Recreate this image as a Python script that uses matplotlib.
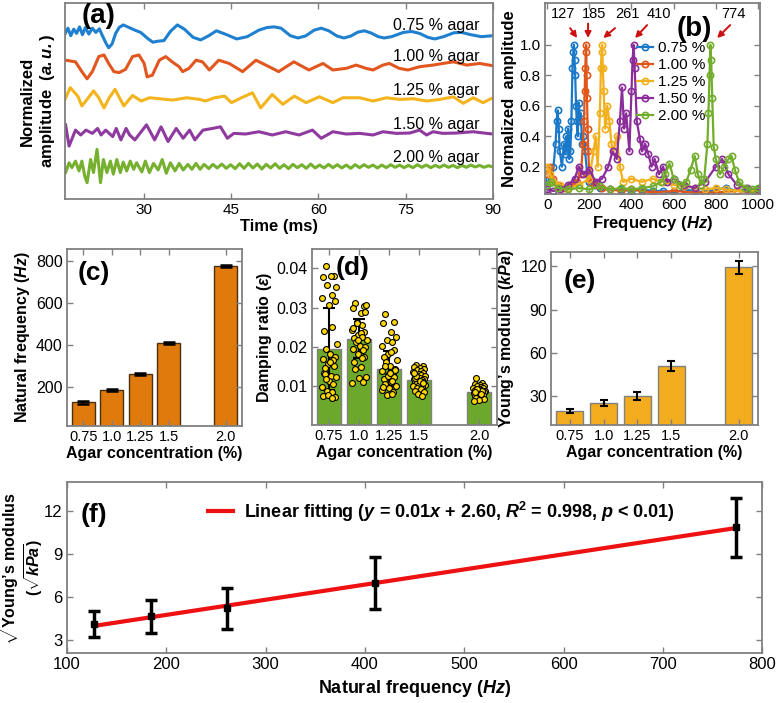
import matplotlib.pyplot as plt
import numpy as np

plt.rcParams['font.family'] = ['Liberation Sans', 'DejaVu Sans']
plt.rcParams['mathtext.fontset'] = 'custom'
plt.rcParams['mathtext.rm'] = 'Liberation Sans'
plt.rcParams['mathtext.bf'] = 'Liberation Sans:bold'
plt.rcParams['mathtext.it'] = 'Liberation Sans:italic'
plt.rcParams['mathtext.bfit'] = 'Liberation Sans:italic:bold'

# ---- (a) time traces: (time ms, value around the trace baseline)
AGAR_LABELS = ['0.75 % agar', '1.00 % agar', '1.25 % agar', '1.50 % agar', '2.00 % agar']

BLUE_T = [16.5, 17.0, 17.5, 18.0, 18.5, 19.0, 19.5, 20.0, 20.6, 21.2, 21.8, 22.4, 23.0, 23.6,
          24.0, 24.6, 25.2, 25.8, 26.5, 27.5, 28.5, 29.5, 30.8, 31.6, 32.4, 33.5, 34.6, 35.8,
          37.0, 38.5, 39.8, 41.2, 42.5, 44.0, 46.0, 47.8, 49.8, 51.2, 52.4, 53.6, 55.2, 56.5,
          57.8, 59.3, 60.5, 61.8, 63.2, 64.4, 65.6, 66.8, 67.9, 69.1, 70.3, 71.3, 72.6, 74.6,
          76.0, 77.4, 78.8, 80.0, 81.5, 83.3, 84.6, 86.2, 88.0, 90.0]
BLUE_V = [0.0, 0.18, -0.05, 0.15, 0.02, 0.22, -0.02, 0.2, 0.0, 0.18, 0.05, 0.16, -0.08, -0.3,
          -0.42, -0.3, 0.02, 0.2, 0.28, 0.2, 0.12, 0.05, -0.15, -0.25, -0.22, -0.2, 0.08, 0.28,
          0.15, -0.1, -0.18, -0.05, 0.1, 0.0, -0.15, -0.08, 0.12, 0.2, 0.22, 0.18, -0.05, -0.12,
          -0.06, 0.12, 0.18, 0.1, -0.06, -0.12, -0.06, 0.06, 0.1, 0.03, -0.08, -0.12, -0.08, 0.05,
          0.08, 0.02, -0.1, -0.15, -0.08, 0.04, 0.05, -0.02, -0.08, -0.05]

RED_T = [16.6, 18.3, 19.4, 20.3, 21.2, 22.3, 23.2, 24.0, 24.9, 25.8, 26.9, 28.1, 29.2, 30.1,
         30.6, 31.5, 32.7, 33.8, 34.9, 36.1, 36.7, 37.8, 39.0, 40.1, 41.3, 42.9, 44.7, 47.0,
         49.3, 52.1, 53.2, 55.8, 58.4, 60.8, 62.5, 64.8, 66.5, 68.2, 69.4, 71.1, 72.2, 73.9,
         75.4, 77.4, 79.7, 81.4, 83.2, 85.5, 87.7, 90.0]
RED_V = [0.15, 0.10, -0.2, -0.42, -0.2, 0.26, 0.31, 0.05, -0.2, -0.23, -0.13, 0.26, 0.31, 0.05,
         -0.36, -0.31, 0.15, 0.26, 0.10, -0.05, -0.2, -0.1, 0.15, 0.1, -0.15, 0.15, 0.05, -0.2,
         0.15, -0.1, -0.2, 0.1, -0.15, 0.05, -0.15, -0.1, 0.0, -0.1, -0.15, 0.0, 0.05, -0.1,
         -0.15, -0.05, 0.0, 0.05, 0.1, 0.0, 0.05, -0.02]

YEL_T = [16.5, 17.4, 18.7, 19.4, 20.3, 21.4, 22.3, 23.2, 24.1, 25.1, 26.0, 26.6, 28.1, 29.6,
         31.0, 32.7, 35.0, 37.4, 39.6, 40.6, 42.2, 43.9, 45.1, 46.8, 48.7, 50.1, 52.1, 53.9,
         55.9, 57.9, 60.2, 62.5, 64.2, 67.1, 69.4, 71.7, 74.0, 76.3, 78.6, 80.9, 83.2, 84.9,
         86.6, 88.3, 90.0]
YEL_V = [0.0, 0.36, 0.1, -0.2, 0.0, 0.26, 0.05, -0.26, 0.05, 0.31, 0.0, -0.2, 0.12, -0.05,
         0.05, 0.02, -0.02, 0.05, 0.0, -0.05, 0.05, 0.1, -0.1, 0.05, 0.2, -0.26, 0.15, -0.15,
         0.1, -0.1, 0.08, -0.1, 0.05, 0.05, -0.05, 0.05, 0.0, 0.02, -0.05, 0.0, 0.08, -0.12,
         0.05, -0.1, 0.05]

PUR_T = [16.6, 17.2, 18.3, 19.2, 20.1, 21.2, 22.1, 22.7, 23.5, 24.7, 25.3, 26.1, 27.0, 27.6,
         28.5, 30.5, 31.9, 33.0, 34.2, 35.6, 36.8, 37.9, 38.8, 40.2, 41.8, 43.2, 44.4, 45.5,
         47.5, 49.8, 52.1, 54.4, 56.7, 59.0, 60.5, 62.5, 64.8, 67.1, 69.4, 71.1, 73.4, 75.7,
         77.4, 78.6, 79.7, 81.4, 83.7, 86.6, 88.9, 90.0]
PUR_V = [0.25, -0.4, 0.09, -0.06, 0.09, -0.01, 0.14, -0.06, 0.09, -0.11, 0.14, -0.21, 0.14,
         -0.06, -0.21, 0.25, -0.21, 0.19, -0.26, 0.14, -0.16, 0.09, -0.21, 0.09, 0.14, 0.19,
         -0.16, -0.01, -0.03, 0.04, -0.06, 0.04, -0.06, 0.09, -0.16, 0.04, -0.03, -0.01, -0.06,
         0.04, -0.01, 0.0, 0.09, -0.06, 0.04, -0.01, 0.0, 0.04, -0.01, -0.03]

GRN_T = [16.6, 17.2, 17.7, 18.3, 18.9, 19.4, 19.9, 20.3, 20.9, 21.4, 22.0, 22.6, 23.1, 23.7,
         24.3, 24.8, 25.4, 26.0, 26.5, 27.1, 27.7, 28.3, 28.8, 29.7, 30.3, 31.0, 31.7, 32.5,
         33.2, 33.9, 34.6, 35.4, 36.1, 36.8, 37.6, 38.3, 39.0, 39.7, 40.4, 41.2]
GRN_V = [-0.19, 0.11, -0.04, 0.16, -0.14, 0.16, -0.3, -0.5, 0.21, -0.19, 0.52, -0.5, 0.21,
         -0.19, 0.16, -0.24, 0.21, -0.19, 0.13, -0.14, 0.16, -0.09, 0.11, -0.17, 0.16, -0.19,
         0.09, -0.11, 0.21, -0.21, 0.11, -0.14, 0.09, -0.11, 0.06, -0.09, 0.09, -0.09, 0.06, -0.07]
# small fast ripple after ~42 ms, sampled every ~0.75 ms
GRN_TAIL = [0.06, -0.05, 0.07, -0.06, 0.05, -0.07, 0.08, -0.06, 0.09, -0.05, 0.07, -0.08, 0.06,
            -0.05, 0.08, -0.06, 0.05, -0.07, 0.06, -0.04, 0.05, -0.06, 0.07, -0.05, 0.04, -0.05,
            0.06, -0.04, 0.05, -0.05, 0.04, -0.06, 0.05, -0.04, 0.05, -0.03, 0.04, -0.05, 0.04,
            -0.04, 0.05, -0.03, 0.04, -0.04, 0.03, -0.04, 0.05, -0.03, 0.04, -0.04, 0.03, -0.03,
            0.04, -0.03, 0.03, -0.04, 0.03, -0.03, 0.04, -0.02, 0.03, -0.03, 0.02, -0.02]

# ---- (b) spectra
SPEC_LABELS = ['0.75 %', '1.00 %', '1.25 %', '1.50 %', '2.00 %']
F_075 = [0, 10, 20, 30, 40, 45, 50, 55, 60, 70, 80, 85, 90, 95, 100, 105, 110, 115, 120, 124,
         127, 130, 133, 137, 140, 145, 150, 155, 160, 165, 170, 180, 190, 200, 220, 250, 300,
         350, 400, 450, 500, 550, 600, 650, 700, 750, 800, 850, 900, 950, 1000]
A_075 = [0.08, 0.12, 0.1, 0.2, 0.35, 0.5, 0.57, 0.45, 0.3, 0.2, 0.35, 0.28, 0.4, 0.3, 0.45, 0.25,
         0.3, 0.5, 0.85, 0.95, 1.0, 0.9, 0.8, 0.6, 0.5, 0.4, 0.62, 0.5, 0.55, 0.35, 0.4, 0.3,
         0.15, 0.1, 0.08, 0.06, 0.05, 0.05, 0.04, 0.05, 0.04, 0.04, 0.03, 0.05, 0.04, 0.03,
         0.05, 0.06, 0.04, 0.05, 0.04]
F_100 = [0, 15, 30, 50, 80, 110, 140, 160, 170, 175, 178, 181, 183, 185, 187, 189, 192, 195,
         200, 210, 230, 260, 300, 350, 400, 450, 500, 600, 700, 800, 900, 1000]
A_100 = [0.15, 0.2, 0.12, 0.08, 0.06, 0.08, 0.1, 0.15, 0.35, 0.5, 0.7, 0.85, 0.95, 1.0, 0.8,
         0.65, 0.45, 0.3, 0.15, 0.1, 0.08, 0.06, 0.05, 0.04, 0.05, 0.04, 0.03, 0.04, 0.03, 0.03,
         0.04, 0.03]
F_125 = [0, 15, 30, 60, 100, 150, 200, 220, 230, 240, 250, 255, 258, 261, 264, 268, 275, 285,
         295, 305, 315, 330, 345, 360, 400, 450, 500, 550, 600, 650, 700, 750, 800, 850, 900, 1000]
A_125 = [0.2, 0.15, 0.1, 0.08, 0.06, 0.08, 0.12, 0.3, 0.4, 0.2, 0.55, 0.85, 0.95, 1.0, 0.85,
         0.7, 0.45, 0.6, 0.5, 0.35, 0.3, 0.4, 0.2, 0.1, 0.12, 0.1, 0.12, 0.1, 0.08, 0.07, 0.06,
         0.05, 0.06, 0.05, 0.04, 0.04]
F_150 = [0, 30, 60, 100, 130, 150, 170, 200, 230, 260, 290, 310, 330, 345, 355, 365, 375, 390,
         400, 405, 410, 415, 425, 440, 450, 465, 480, 495, 510, 530, 550, 570, 600, 650, 700,
         750, 800, 830, 860, 900, 950, 1000]
A_150 = [0.05, 0.04, 0.05, 0.08, 0.12, 0.2, 0.15, 0.18, 0.1, 0.12, 0.2, 0.3, 0.25, 0.5, 0.72,
         0.45, 0.55, 0.3, 0.7, 0.9, 1.0, 0.85, 0.5, 0.38, 0.3, 0.35, 0.28, 0.2, 0.25, 0.15, 0.2,
         0.1, 0.12, 0.08, 0.06, 0.1, 0.2, 0.25, 0.15, 0.08, 0.06, 0.05]
F_200 = [0, 20, 50, 100, 150, 200, 250, 300, 350, 400, 450, 500, 540, 560, 580, 600, 630, 660,
         680, 700, 715, 730, 745, 760, 765, 770, 774, 778, 783, 790, 800, 820, 840, 860, 875,
         890, 910, 940, 970, 1000]
A_200 = [0.08, 0.1, 0.06, 0.05, 0.06, 0.05, 0.07, 0.05, 0.06, 0.05, 0.06, 0.07, 0.1, 0.15,
         0.22, 0.12, 0.08, 0.1, 0.18, 0.27, 0.15, 0.08, 0.12, 0.35, 0.55, 0.8, 1.0, 0.9, 0.65,
         0.33, 0.25, 0.15, 0.2, 0.25, 0.27, 0.18, 0.1, 0.06, 0.05, 0.06]
PEAK_FREQ = [127, 185, 261, 410, 774]

# ---- (c)-(e) bars
CONC_LABELS = ['0.75', '1.0', '1.25', '1.5', '2.0']
NAT_FREQ = [127, 185, 261, 410, 774]
NAT_FREQ_ERR = [6, 6, 5, 5, 5]
DAMP_MEAN = [0.0195, 0.0221, 0.0143, 0.0115, 0.0085]
DAMP_SD = [0.0105, 0.0049, 0.0046, 0.0014, 0.0010]
DAMP_075 = [0.0406, 0.0382, 0.0378, 0.0380, 0.0353, 0.0359, 0.0333, 0.0324, 0.0316, 0.0307,
            0.0251, 0.0240, 0.0208, 0.0195, 0.0182, 0.0173, 0.0169, 0.0165, 0.0156, 0.0152,
            0.0134, 0.0126, 0.0130, 0.0122, 0.0113, 0.0096, 0.0104, 0.0087, 0.0083, 0.0074,
            0.0072, 0.0077, 0.0070, 0.0145, 0.0160, 0.0118]
DAMP_100 = [0.0311, 0.0303, 0.0298, 0.0285, 0.0307, 0.0264, 0.0255, 0.0242, 0.0238, 0.0229,
            0.0234, 0.0223, 0.0216, 0.0212, 0.0203, 0.0199, 0.0195, 0.0191, 0.0182, 0.0173,
            0.0160, 0.0147, 0.0143, 0.0122, 0.0120, 0.0106, 0.0109, 0.0260, 0.0225, 0.0248,
            0.0290, 0.0218, 0.0170]
DAMP_125 = [0.0284, 0.0264, 0.0261, 0.0238, 0.0225, 0.0216, 0.0212, 0.0203, 0.0191, 0.0182,
            0.0186, 0.0173, 0.0165, 0.0160, 0.0152, 0.0143, 0.0139, 0.0134, 0.0128, 0.0122,
            0.0117, 0.0109, 0.0104, 0.0100, 0.0094, 0.0089, 0.0083, 0.0077, 0.0080, 0.0096,
            0.0140, 0.0125, 0.0112, 0.0150, 0.0132]
DAMP_150 = [0.0153, 0.0150, 0.0147, 0.0145, 0.0142, 0.0141, 0.0137, 0.0135, 0.0134, 0.0130,
            0.0128, 0.0127, 0.0124, 0.0122, 0.0121, 0.0118, 0.0117, 0.0114, 0.0112, 0.0111,
            0.0109, 0.0107, 0.0105, 0.0103, 0.0101, 0.0099, 0.0098, 0.0095, 0.0091, 0.0087,
            0.0083, 0.0078, 0.0074, 0.0119, 0.0113, 0.0126, 0.0108, 0.0132]
DAMP_200 = [0.0120, 0.0108, 0.0104, 0.0102, 0.0100, 0.0099, 0.0097, 0.0095, 0.0094, 0.0092,
            0.0090, 0.0089, 0.0087, 0.0086, 0.0084, 0.0083, 0.0081, 0.0080, 0.0078, 0.0076,
            0.0074, 0.0072, 0.0070, 0.0067, 0.0064, 0.0060, 0.0088, 0.0093, 0.0079, 0.0085]
YOUNG = [19.5, 25.0, 30.0, 51.0, 119.5]
YOUNG_ERR = [1.5, 2.0, 2.7, 3.5, 4.5]

# ---- (f) sqrt(Young's modulus) vs natural frequency
SQRT_E = [4.1, 4.65, 5.2, 6.95, 10.85]
SQRT_E_ERR = [0.9, 1.15, 1.45, 1.8, 2.05]

TRACE_COLORS = ['#1f80d0', '#e2571f', '#f4b41e', '#8e3a9e', '#75b02f']
SPEC_COLORS = ['#1a78c8', '#e0561a', '#f2b01c', '#8a2d9a', '#72ad2c']
BAR_POS = [1, 2, 3, 4, 6]
JITTER = [-0.12, 0.15, -0.2, 0.05, 0.22, -0.08, 0.1, -0.25, 0.18, -0.02, 0.08, -0.16, 0.25,
          -0.1, 0.02, 0.2, -0.22, 0.12, -0.05, 0.17, -0.18, 0.06, -0.13, 0.24, 0.0, -0.24,
          0.14, -0.07, 0.09, -0.19, 0.21, -0.03, 0.11, -0.15, 0.03]


def style_axes(ax, labelsize=11):
    for s in ax.spines.values():
        s.set_color('#808080')
        s.set_linewidth(1.3)
    ax.tick_params(direction='in', top=True, right=True, length=4, width=1,
                   color='#808080', labelsize=labelsize, pad=3)


def panel_label(ax, x, y, text, size=19):
    ax.text(x, y, text, transform=ax.transAxes, fontsize=size, fontweight='bold',
            ha='left', va='top')


fig = plt.figure(figsize=(7.82, 7.03), dpi=100)

# (a) --------------------------------------------------------------
ax = fig.add_axes([0.0831, 0.7169, 0.5473, 0.2788])
baselines = [5.05, 4.1, 3.05, 2.02, 1.0]
green_tail_t = np.linspace(41.9, 90, len(GRN_TAIL))
traces = [(BLUE_T, BLUE_V), (RED_T, RED_V), (YEL_T, YEL_V), (PUR_T, PUR_V),
          (GRN_T + list(green_tail_t), GRN_V + GRN_TAIL)]
for (t, v), base, col, lab in zip(traces, baselines, TRACE_COLORS, AGAR_LABELS):
    ax.plot(t, np.array(v) + base, color=col, lw=2.2, solid_joinstyle='round')
    ax.text(72.9, base + 0.27, lab, fontsize=11.5, va='center', ha='left')
ax.set_xlim(16.5, 90)
ax.set_ylim(0, 6)
ax.set_xticks([30, 45, 60, 75, 90])
ax.set_yticks([])
style_axes(ax)
ax.set_xlabel('Time (ms)', fontsize=12, fontweight='bold', labelpad=1)
ax.set_ylabel('Normalized\namplitude  ($\\mathbfit{a.u.}$)', fontsize=12,
              fontweight='bold', labelpad=6)
panel_label(ax, 0.04, 1.0, '(a)', size=20)

# (b) --------------------------------------------------------------
ax = fig.add_axes([0.697, 0.724, 0.275, 0.2717])
spectra = [(F_075, A_075), (F_100, A_100), (F_125, A_125), (F_150, A_150), (F_200, A_200)]
for (f, a), col, lab in zip(spectra, SPEC_COLORS, SPEC_LABELS):
    ax.plot(f, a, '-o', color=col, lw=1.6, ms=4.5, mfc='none', mew=1.2, label=lab)
ax.set_xlim(-10, 1010)
ax.set_ylim(0.02, 1.275)
ax.set_xticks([0, 200, 400, 600, 800, 1000])
ax.set_yticks([0.2, 0.4, 0.6, 0.8, 1.0])
style_axes(ax)
ax.set_xlabel('Frequency ($\\mathbfit{Hz}$)', fontsize=12, fontweight='bold', labelpad=1)
ax.set_ylabel('Normalized  amplitude', fontsize=12, fontweight='bold', labelpad=2)
ax.legend(loc='upper left', bbox_to_anchor=(0.39, 0.84), frameon=False, fontsize=11,
          handlelength=1.1, handletextpad=0.3, labelspacing=0.2, borderpad=0)
text_x = [76, 224, 380, 528, 882]
tail_x = [109, 194, 322, 474, 868]
tail_y = [1.11, 1.14, 1.11, 1.13, 1.13]
tip_x = [142, 194, 266, 417, 806]
for p, tx, x0, y0, x1 in zip(PEAK_FREQ, text_x, tail_x, tail_y, tip_x):
    ax.text(tx, 1.2, str(p), fontsize=10.5, ha='center', va='center')
    ax.annotate('', xy=(x1, 1.045), xytext=(x0, y0),
                arrowprops=dict(arrowstyle='-|>', color='#cc1010', lw=1.4,
                                mutation_scale=9, shrinkA=0, shrinkB=0))
panel_label(ax, 0.61, 0.93, '(b)', size=20)

# (c) --------------------------------------------------------------
ax = fig.add_axes([0.0857, 0.394, 0.2238, 0.2518])
ax.bar(BAR_POS, NAT_FREQ, width=0.8, color='#e07a0c', edgecolor='#4a3010', lw=1)
ax.errorbar(BAR_POS, NAT_FREQ, yerr=NAT_FREQ_ERR, fmt='none', ecolor='k', elinewidth=1.5,
            capsize=4, capthick=1.8)
ax.set_xlim(0.43, 6.57)
ax.set_ylim(14, 857)
ax.set_yticks([200, 400, 600, 800])
ax.set_xticks(BAR_POS)
ax.set_xticklabels(CONC_LABELS)
style_axes(ax, labelsize=10.5)
ax.tick_params(axis='y', labelsize=11.5)
ax.set_xlabel('Agar concentration (%)', fontsize=11.5, fontweight='bold', labelpad=1)
ax.set_ylabel('Natural frequency ($\\mathbfit{Hz}$)', fontsize=11.5, fontweight='bold',
              labelpad=3)
panel_label(ax, 0.06, 0.93, '(c)')

# (d) --------------------------------------------------------------
ax = fig.add_axes([0.399, 0.3955, 0.2366, 0.2504])
ax.bar(BAR_POS, DAMP_MEAN, width=0.8, color='#6ba82c', edgecolor='#808080', lw=1)
ax.errorbar(BAR_POS, DAMP_MEAN, yerr=DAMP_SD, fmt='none', ecolor='k', elinewidth=1.5,
            capsize=4, capthick=1.5)
jitter_scale = [1.0, 1.0, 1.0, 0.8, 0.75]
for pos, vals, sc in zip(BAR_POS, [DAMP_075, DAMP_100, DAMP_125, DAMP_150, DAMP_200],
                         jitter_scale):
    xs = [pos + sc * JITTER[i % len(JITTER)] for i in range(len(vals))]
    ax.scatter(xs, vals, s=18, color='#ffd800', edgecolor='k', linewidth=0.8, zorder=3)
ax.set_xlim(0.43, 6.6)
ax.set_ylim(0, 0.045)
ax.set_yticks([0.01, 0.02, 0.03, 0.04])
ax.set_yticklabels(['0.01', '0.02', '0.03', '0.04'])
ax.set_xticks(BAR_POS)
ax.set_xticklabels(CONC_LABELS)
style_axes(ax, labelsize=10.5)
ax.tick_params(axis='y', labelsize=11.5)
ax.set_xlabel('Agar concentration (%)', fontsize=11.5, fontweight='bold', labelpad=1)
ax.set_ylabel('Damping ratio ($\\mathbfit{ε}$)', fontsize=11.5, fontweight='bold', labelpad=2)
panel_label(ax, 0.13, 0.96, '(d)')

# (e) --------------------------------------------------------------
ax = fig.add_axes([0.7046, 0.3955, 0.2647, 0.246])
ax.bar(BAR_POS, YOUNG, width=0.8, color='#f2ac1e', edgecolor='#808080', lw=1)
ax.errorbar(BAR_POS, YOUNG, yerr=YOUNG_ERR, fmt='none', ecolor='k', elinewidth=1.5,
            capsize=3, capthick=1.5)
ax.set_xlim(0.44, 6.57)
ax.set_ylim(10, 130)
ax.set_yticks([30, 60, 90, 120])
ax.set_xticks(BAR_POS)
ax.set_xticklabels(CONC_LABELS)
style_axes(ax, labelsize=10.5)
ax.tick_params(axis='y', labelsize=11.5)
ax.set_xlabel('Agar concentration (%)', fontsize=11.5, fontweight='bold', labelpad=1)
ax.set_ylabel('Young\u2019s modulus ($\\mathbfit{kPa}$)', fontsize=11.5, fontweight='bold',
              labelpad=3)
panel_label(ax, 0.06, 0.9, '(e)')

# (f) --------------------------------------------------------------
ax = fig.add_axes([0.0857, 0.0711, 0.889, 0.2432])
slope, intercept = np.polyfit(NAT_FREQ, SQRT_E, 1)
fx = np.array([min(NAT_FREQ), max(NAT_FREQ)])
ax.plot(fx, slope * fx + intercept, color='#ee1111', lw=3,
        label='Linear fitting ($\\mathbfit{y}$ = 0.01$\\mathbfit{x}$ + 2.60, '
              '$\\mathbfit{R}^{\\mathbf{2}}$ = 0.998, $\\mathbfit{p}$ < 0.01)')
ax.errorbar(NAT_FREQ, SQRT_E, yerr=SQRT_E_ERR, fmt='s', color='k', ms=4, elinewidth=2.5,
            capsize=4, capthick=2.5)
ax.set_xlim(100, 800)
ax.set_ylim(2.1, 14)
ax.set_yticks([3, 6, 9, 12])
ax.set_xticks([100, 200, 300, 400, 500, 600, 700, 800])
style_axes(ax, labelsize=12)
ax.legend(loc='upper left', bbox_to_anchor=(0.19, 0.95), frameon=False,
          prop={'weight': 'bold', 'size': 13},
          handlelength=1.4, handletextpad=0.6, borderpad=0)
ax.set_xlabel('Natural frequency ($\\mathbfit{Hz}$)', fontsize=13, fontweight='bold',
              labelpad=4)
# two-line y label, each line placed on its own
ax.text(-0.082, 0.5, '$\\sqrt{\\mathbf{Young\u2019s\\ modulus}}$', transform=ax.transAxes,
        rotation=90, ha='center', va='center', fontsize=11.5)
ax.text(-0.048, 0.5, '$\\mathbf{(}\\sqrt{\\mathbfit{kPa}}\\mathbf{)}$', transform=ax.transAxes,
        rotation=90, ha='center', va='center', fontsize=11.5)
panel_label(ax, 0.02, 0.88, '(f)')

fig.savefig('out.png', dpi=100)
